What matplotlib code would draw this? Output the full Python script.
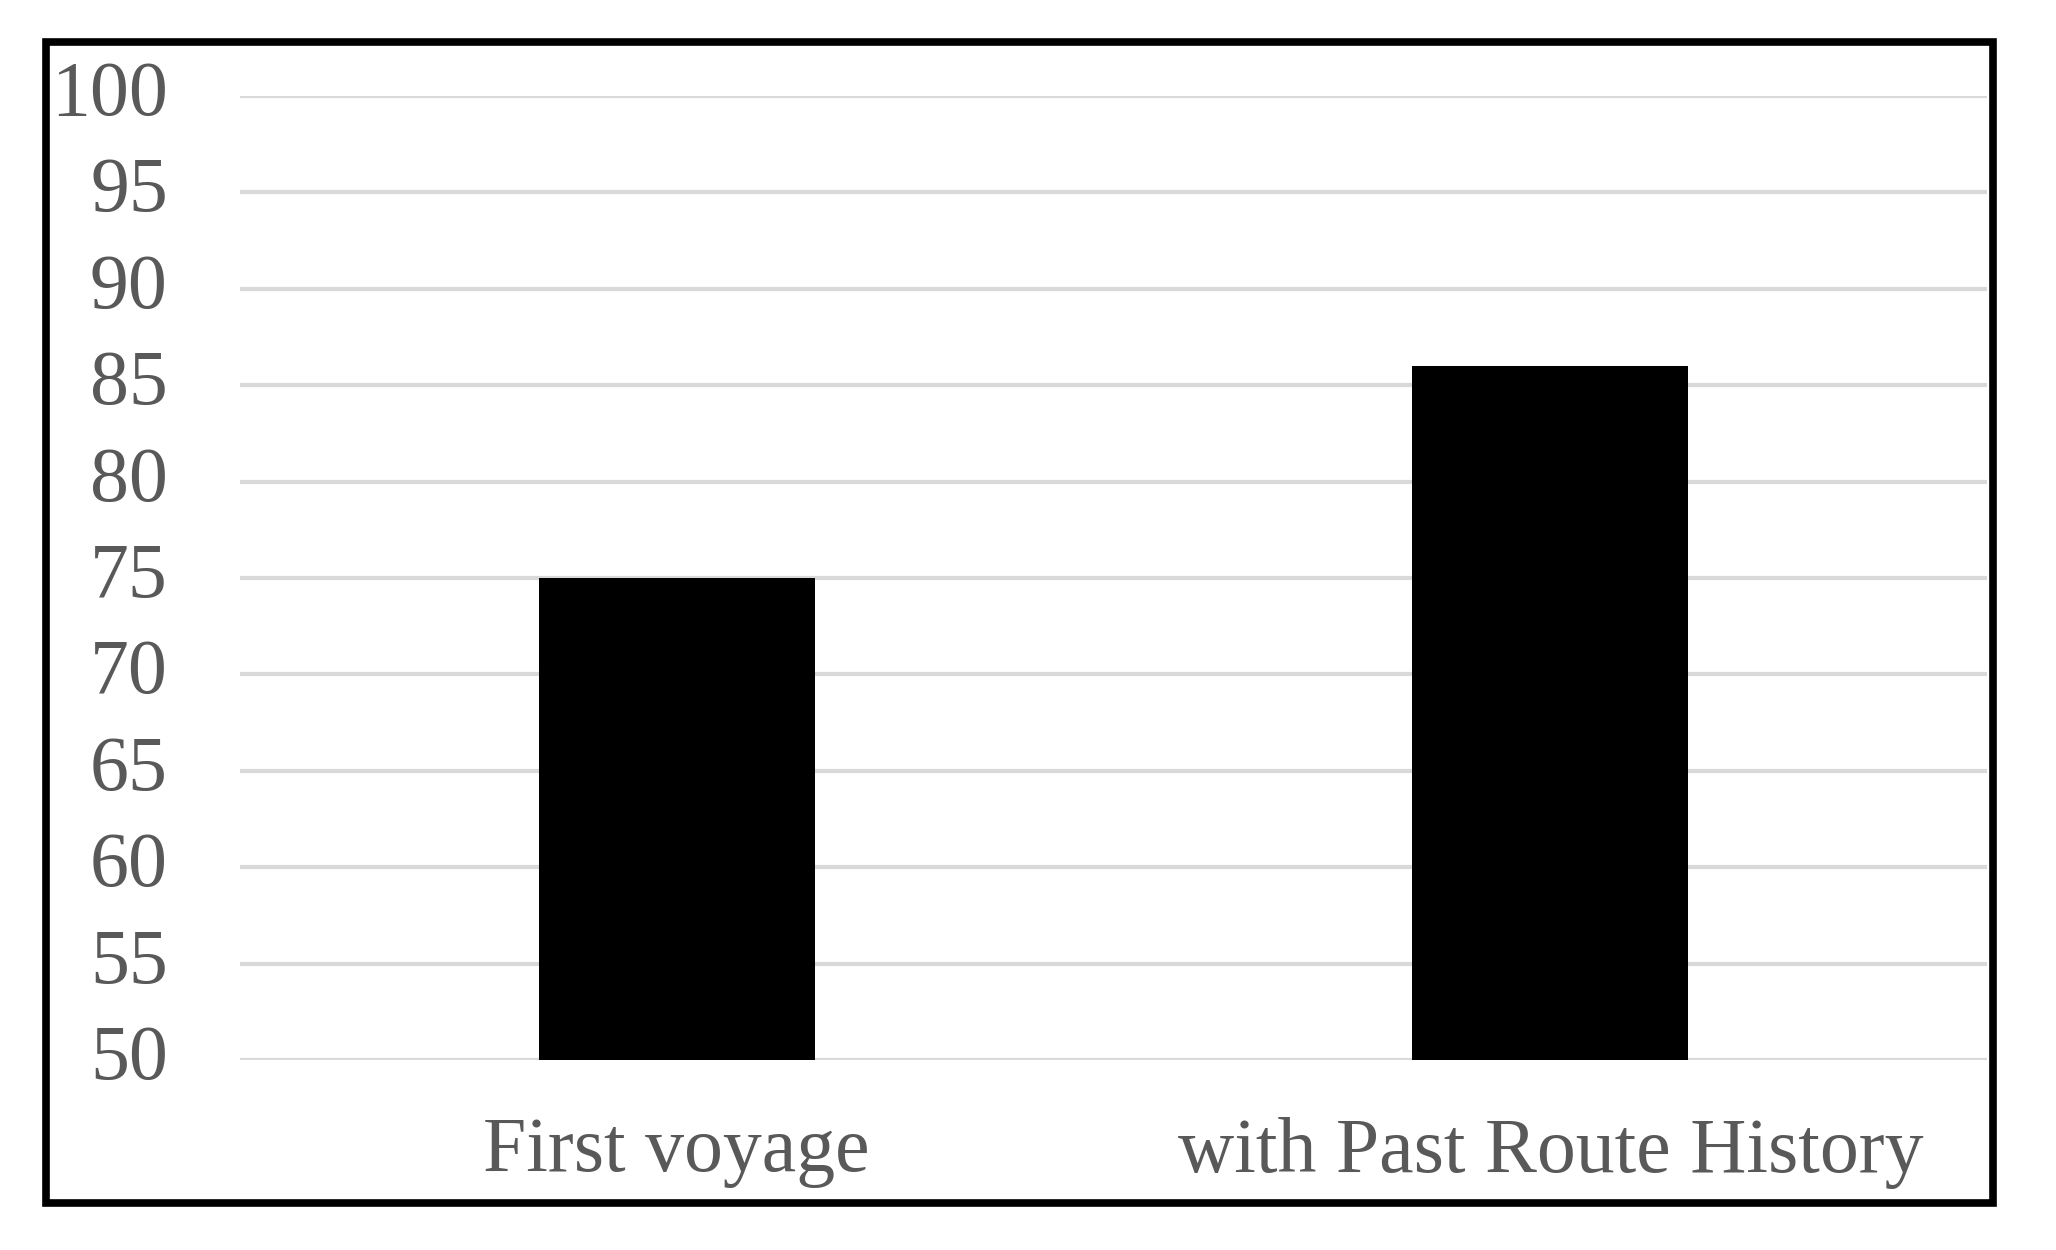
import matplotlib.pyplot as plt
from matplotlib.patches import Rectangle
from matplotlib.transforms import ScaledTranslation

# valores
categories = ['First voyage', 'with Past Route History']
values = [75, 86]
yticks = [50, 55, 60, 65, 70, 75, 80, 85, 90, 95, 100]

plt.rcParams['font.family'] = ['Liberation Serif', 'DejaVu Serif']

W, H = 2056, 1250
fig = plt.figure(figsize=(W / 100, H / 100), dpi=100)
ax = fig.add_axes([240 / W, 1 - 1060 / H, (1987 - 240) / W, (1060 - 96) / H])

x = range(len(categories))
ax.bar(x, values, width=0.316, color='black', zorder=3)

ax.set_xlim(-0.5, 1.5)
ax.set_ylim(50, 100)
ax.set_yticks(yticks)
ax.set_xticks(list(x))
ax.set_xticklabels(categories)

ax.grid(axis='y', color='#d9d9d9', linewidth=3, zorder=0)
for s in ax.spines.values():
    s.set_visible(False)
ax.tick_params(axis='both', length=0, colors='#595959', labelsize=56)
ax.tick_params(axis='y', pad=52)
ax.tick_params(axis='x', pad=41)

# subir um pouco os rótulos do eixo y
off = ScaledTranslation(0, 6 / 72, fig.dpi_scale_trans)
for lbl in ax.get_yticklabels():
    lbl.set_transform(lbl.get_transform() + off)

# moldura preta em volta da figura
fig.patches.append(Rectangle((46 / W, 1 - 1203 / H), (1993 - 46) / W, (1203 - 42) / H,
                             transform=fig.transFigure, fill=False,
                             edgecolor='black', linewidth=5.5))

fig.savefig('out.png', dpi=100)
